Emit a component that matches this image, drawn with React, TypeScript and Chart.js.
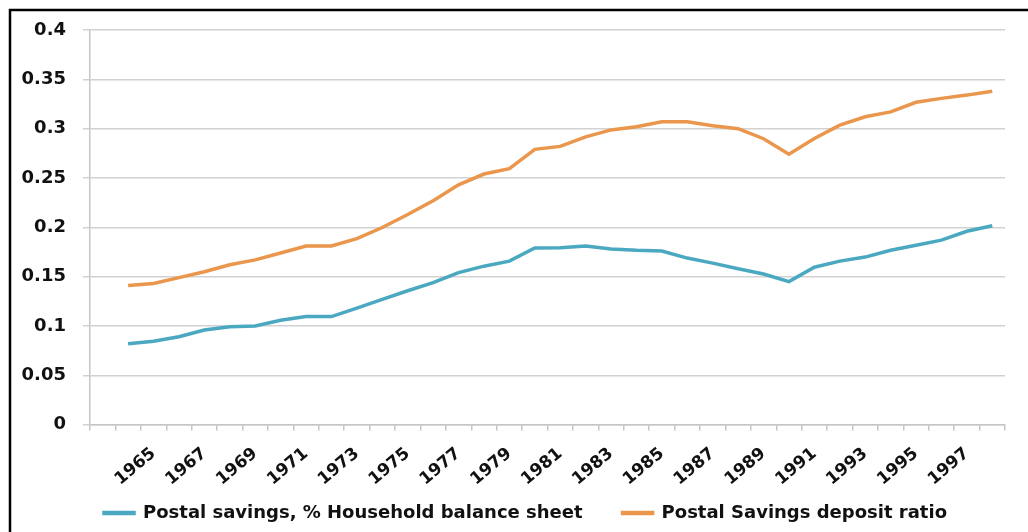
import React, { useEffect, useRef } from "react";
import { Chart, registerables } from "chart.js";

Chart.register(...registerables);

const categories = [
  "", "1964", "1965", "1966", "1967", "1968", "1969", "1970", "1971", "1972",
  "1973", "1974", "1975", "1976", "1977", "1978", "1979", "1980", "1981",
  "1982", "1983", "1984", "1985", "1986", "1987", "1988", "1989", "1990",
  "1991", "1992", "1993", "1994", "1995", "1996", "1997", "1998",
];

const postalHousehold = [
  null, 0.082, 0.0846, 0.089, 0.0958, 0.0992, 0.0999, 0.1057, 0.1095, 0.1095,
  0.118, 0.127, 0.1357, 0.144, 0.154, 0.1606, 0.1657, 0.179, 0.1793,
  0.181, 0.178, 0.1767, 0.176, 0.1688, 0.1637, 0.1579, 0.1527, 0.145,
  0.1595, 0.1657, 0.1698, 0.1767, 0.1818, 0.187, 0.196, 0.2015,
];

const postalDeposit = [
  null, 0.141, 0.143, 0.149, 0.155, 0.162, 0.167, 0.174, 0.181, 0.181,
  0.1885, 0.1998, 0.213, 0.227, 0.243, 0.254, 0.2595, 0.279, 0.282,
  0.2916, 0.2987, 0.302, 0.307, 0.307, 0.303, 0.3, 0.2898, 0.274,
  0.29, 0.3035, 0.312, 0.317, 0.3267, 0.3307, 0.334, 0.338,
];

const seriesNames = [
  "Postal savings, % Household balance sheet",
  "Postal Savings deposit ratio",
];

const yTicks = { min: 0, max: 0.4, step: 0.05 };

const FONT = "'DejaVu Sans', sans-serif";

const framePlugin = {
  id: "frame",
  afterLayout(chart: any) {
    // let tick labels use the full room around the plot (no clipping)
    chart.scales.y.left = 0;
    chart.scales.x.bottom = chart.height;
  },
  afterDraw(chart: any) {
    const ctx = chart.ctx;
    ctx.save();
    ctx.strokeStyle = "#000";
    ctx.lineWidth = 2.5;
    ctx.beginPath();
    ctx.moveTo(10, chart.height);
    ctx.lineTo(10, 10);
    ctx.lineTo(chart.width, 10);
    ctx.stroke();
    ctx.restore();
  },
};

export default function App() {
  const ref = useRef<HTMLCanvasElement>(null);

  useEffect(() => {
    if (!ref.current) return;
    const chart = new Chart(ref.current, {
      type: "line",
      data: {
        labels: categories,
        datasets: [
          {
            label: seriesNames[0],
            data: postalHousehold,
            borderColor: "#4BA8C1",
            backgroundColor: "#4BA8C1",
            borderWidth: 3.5,
            pointRadius: 0,
            tension: 0,
          },
          {
            label: seriesNames[1],
            data: postalDeposit,
            borderColor: "#EA964C",
            backgroundColor: "#EA964C",
            borderWidth: 3.5,
            pointRadius: 0,
            tension: 0,
          },
        ],
      },
      options: {
        responsive: false,
        animation: false,
        devicePixelRatio: 1,
        layout: { padding: { top: 30, right: 23, left: 46, bottom: 0 } },
        plugins: {
          tooltip: { enabled: false },
          legend: {
            position: "bottom",
            labels: {
              boxWidth: 30,
              boxHeight: 1,
              padding: 40,
              color: "#111",
              font: { family: FONT, size: 18, weight: "bold" },
            },
          },
        },
        scales: {
          x: {
            offset: true,
            afterFit: (s: any) => {
              s.height = 39.4;
            },
            grid: {
              offset: true,
              drawOnChartArea: false,
              drawTicks: true,
              tickLength: 6,
              color: "#c6c6c6",
              lineWidth: 1.5,
            },
            border: { display: true, color: "#c6c6c6", width: 1.5 },
            ticks: {
              autoSkip: false,
              minRotation: 40,
              maxRotation: 40,
              padding: 13,
              color: "#111",
              font: { family: FONT, size: 17, weight: "bold" },
              callback: (_v: any, i: number) =>
                i > 0 && i % 2 === 0 ? categories[i] : "",
            },
          },
          y: {
            min: yTicks.min,
            max: yTicks.max,
            afterFit: (s: any) => {
              s.width = 44;
            },
            grid: {
              color: "#d2d2d2",
              lineWidth: 1.5,
              drawTicks: true,
              tickLength: 7,
            },
            border: { display: true, color: "#c6c6c6", width: 1.5 },
            ticks: {
              stepSize: yTicks.step,
              padding: 17,
              color: "#111",
              font: { family: FONT, size: 18, weight: "bold" },
              callback: (v: any) => String(Math.round(Number(v) * 100) / 100),
            },
          },
        },
      },
      plugins: [framePlugin],
    });
    return () => chart.destroy();
  }, []);

  return (
    <div style={{ position: "fixed", left: 0, top: 0, width: 1028, height: 532, background: "#fff" }}>
      <canvas ref={ref} width={1028} height={532} />
    </div>
  );
}
